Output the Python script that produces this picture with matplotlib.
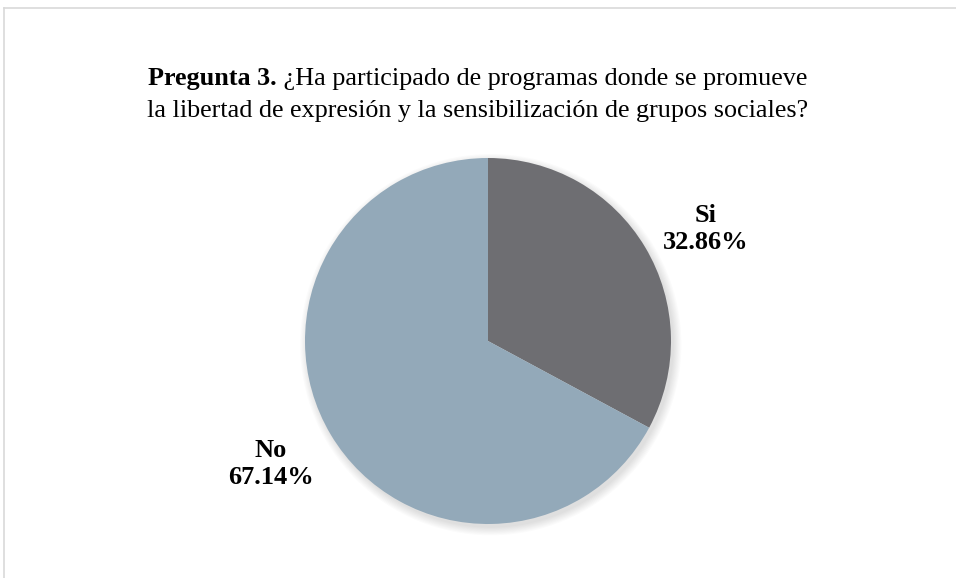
import matplotlib
matplotlib.use("Agg")
import numpy as np
import matplotlib.pyplot as plt
from matplotlib.lines import Line2D
from matplotlib.patches import Circle

# Datos de la pregunta 3
categorias = ["Si", "No"]
porcentajes = [32.86, 67.14]
colores = ["#6E6E72", "#93A9B9"]

titulo_negrita = "Pregunta 3."
titulo_linea1 = " ¿Ha participado de programas donde se promueve"
titulo_linea2 = "la libertad de expresión y la sensibilización de grupos sociales?"

plt.rcParams['font.family'] = ['Liberation Serif', 'DejaVu Serif']

fig = plt.figure(figsize=(9.56, 5.78), dpi=100)
fig.patch.set_facecolor("white")

# Marco gris claro (borde superior e izquierdo)
fig.add_artist(Line2D([4/956, 1], [1 - 8/578, 1 - 8/578], color="#D9D9D9", lw=1.2))
fig.add_artist(Line2D([4/956, 4/956], [0, 1 - 8/578], color="#D9D9D9", lw=1.2))

# Titulo: primera linea con parte en negrita
tam_titulo = 18.8
renderer = fig.canvas.get_renderer()
t1 = fig.text(0, 0, titulo_negrita, fontsize=tam_titulo, fontweight="bold")
t2 = fig.text(0, 0, titulo_linea1, fontsize=tam_titulo)
w1 = t1.get_window_extent(renderer).width / fig.bbox.width
w2 = t2.get_window_extent(renderer).width / fig.bbox.width
x0 = 0.5 - (w1 + w2) / 2
y1 = 1 - 85/578
t1.set_position((x0, y1))
t2.set_position((x0 + w1, y1))
fig.text(0.5, 1 - 117/578, titulo_linea2, fontsize=tam_titulo, ha="center")

# Grafico de torta
ax = fig.add_axes([305/956, 54/578, 366/956, 366/578])

# sombra suave detras de la torta
for i in range(8):
    ax.add_patch(Circle((0.015, -0.02), 1 + 0.006 * i, color="black",
                        alpha=0.016, lw=0, zorder=0, clip_on=False))

wedges, _ = ax.pie(porcentajes, colors=colores, startangle=90,
                   counterclock=False, radius=1,
                   wedgeprops=dict(linewidth=0, zorder=1))

# etiquetas en negrita fuera de cada sector
for w, c, p in zip(wedges, categorias, porcentajes):
    ang = np.deg2rad((w.theta1 + w.theta2) / 2 - 2.5)
    ax.text(1.35 * np.cos(ang), 1.35 * np.sin(ang) - 0.03, f"{c}\n{p:.2f}%",
            ha="center", va="center", fontsize=19, fontweight="bold",
            linespacing=1.2)

ax.set_xlim(-1, 1)
ax.set_ylim(-1, 1)
ax.set_aspect("equal")
ax.axis("off")

fig.savefig("out.png", dpi=100)
